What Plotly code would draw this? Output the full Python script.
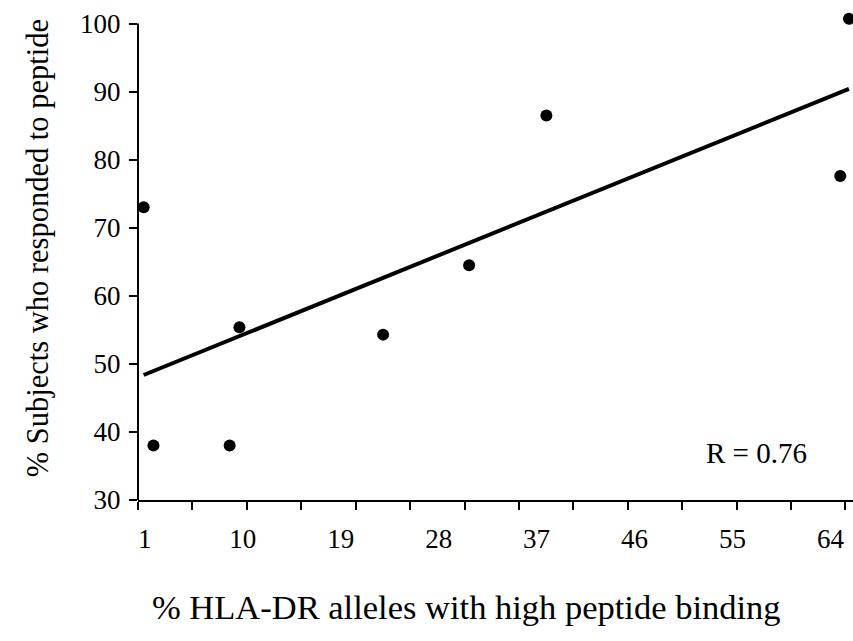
import numpy as np
import plotly.graph_objects as go

# % HLA-DR alleles with high peptide binding vs % subjects responding
hla_binding = [0.9, 1.8, 8.8, 9.7, 22.9, 30.8, 37.9, 64.9, 65.7]
responders = [73.0, 38.0, 38.0, 55.4, 54.3, 64.5, 86.5, 77.6, 100.7]

x_tick_values = [1, 10, 19, 28, 37, 46, 55, 64]
x_tick_labels = ["1", "10", "19", "28", "37", "46", "55", "64"]
y_tick_values = [30, 40, 50, 60, 70, 80, 90, 100]

# least-squares trend line and correlation coefficient
slope, intercept = np.polyfit(hla_binding, responders, 1)
r_value = np.corrcoef(hla_binding, responders)[0, 1]
fit_x = [min(hla_binding), max(hla_binding)]
fit_y = [slope * v + intercept for v in fit_x]

FONT = "Liberation Serif, Times New Roman, serif"
X_MIN, X_MAX = 0.38, 66.07
Y_MIN, Y_AXIS_TOP, Y_MAX = 30, 100, 102

fig = go.Figure()
fig.add_trace(go.Scatter(
    x=fit_x, y=fit_y, mode="lines",
    line=dict(color="black", width=4),
    hoverinfo="skip", cliponaxis=False,
))
fig.add_trace(go.Scatter(
    x=hla_binding, y=responders, mode="markers",
    marker=dict(color="black", size=12),
    cliponaxis=False,
))

# vertical axis line stops at the top tick (100)
fig.add_shape(type="line", xref="paper", yref="y",
              x0=0, x1=0, y0=Y_MIN, y1=Y_AXIS_TOP,
              line=dict(color="black", width=2))

fig.update_layout(
    width=853, height=641,
    margin=dict(l=138, r=0, t=10, b=141),
    paper_bgcolor="white", plot_bgcolor="white",
    showlegend=False,
    font=dict(family=FONT, size=27, color="black"),
    xaxis=dict(
        range=[X_MIN, X_MAX],
        tickmode="array", tickvals=x_tick_values, ticktext=x_tick_labels,
        ticks="", ticklabelstandoff=14,
        showline=True, linecolor="black", linewidth=2,
        showgrid=False, zeroline=False,
        minor=dict(tickmode="linear", tick0=X_MIN, dtick=5,
                   ticks="outside", ticklen=8, tickwidth=2,
                   tickcolor="black", showgrid=False),
        tickfont=dict(family=FONT, size=27),
    ),
    yaxis=dict(
        range=[Y_MIN, Y_MAX],
        tickmode="array", tickvals=y_tick_values,
        ticks="outside", ticklen=8, tickwidth=2, tickcolor="black",
        ticklabelstandoff=3,
        showline=False,
        showgrid=False, zeroline=False,
        tickfont=dict(family=FONT, size=27),
    ),
    annotations=[
        dict(text="% Subjects who responded to peptide", textangle=-90,
             xref="paper", yref="paper", x=-0.1403, y=0.513,
             xanchor="center", yanchor="middle", showarrow=False,
             font=dict(family=FONT, size=30.5)),
        dict(text="% HLA-DR alleles with high peptide binding",
             xref="paper", yref="paper", x=0.46, y=-0.218,
             xanchor="center", yanchor="middle", showarrow=False,
             font=dict(family=FONT, size=34.5)),
        dict(text=f"R = {r_value:.2f}",
             xref="paper", yref="paper", x=0.8657, y=0.095,
             xanchor="center", yanchor="middle", showarrow=False,
             font=dict(family=FONT, size=29)),
    ],
)

fig.write_html("out.html")
